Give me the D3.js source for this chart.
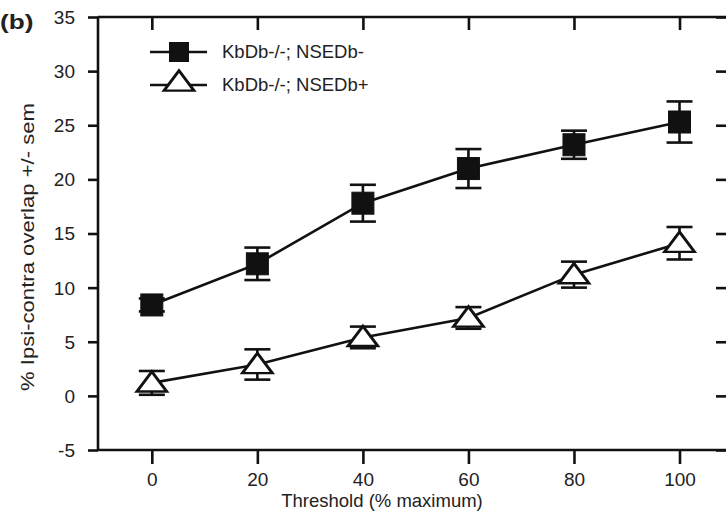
<!DOCTYPE html>
<html>
<head>
<meta charset="utf-8">
<script src="https://cdn.jsdelivr.net/npm/d3@7"></script>
<style>
  body { margin: 0; background: #fff; }
  svg { display: block; font-family: "Liberation Sans", Arial, sans-serif; }
</style>
</head>
<body>
<svg width="726" height="516"></svg>
<script>
// data
const thresholds = [0, 20, 40, 60, 80, 100];
const negMean = [8.4, 12.2, 17.8, 21.0, 23.2, 25.3];
const negSem  = [0.6, 1.5, 1.7, 1.8, 1.3, 1.9];
const posMean = [1.2, 2.9, 5.4, 7.2, 11.2, 14.1];
const posSem  = [1.1, 1.4, 1.0, 1.0, 1.2, 1.5];
const yTicks = [-5, 0, 5, 10, 15, 20, 25, 30, 35];
const seriesNames = ["KbDb-/-; NSEDb-", "KbDb-/-; NSEDb+"];

const svg = d3.select("svg");

const x = d3.scaleLinear().domain([-10.2, 109]).range([98, 727]);
const y = d3.scaleLinear().domain([-5, 35]).range([450, 17]);

const axisW = 2.6;
const fmt = d => String(d);

// axes
const gL = svg.append("g").attr("transform", "translate(98,0)")
  .call(d3.axisLeft(y).tickValues(yTicks).tickSize(10).tickFormat(fmt));
const gB = svg.append("g").attr("transform", "translate(0,450)")
  .call(d3.axisBottom(x).tickValues(thresholds).tickSize(14).tickFormat(fmt));
const gT = svg.append("g").attr("transform", "translate(0,17)")
  .call(d3.axisBottom(x).tickValues(thresholds).tickSize(13).tickFormat(""));
const gR = svg.append("g").attr("transform", "translate(727,0)")
  .call(d3.axisLeft(y).tickValues(yTicks).tickSize(11).tickFormat(""));

[gL, gB, gT, gR].forEach(g => {
  g.selectAll("path.domain").attr("stroke", "#111").attr("stroke-width", axisW);
  g.selectAll(".tick line").attr("stroke", "#111").attr("stroke-width", axisW);
  g.selectAll("text").attr("fill", "#222").style("font-size", "19px").style("font-family", "Liberation Sans, Arial, sans-serif");
});
gL.select("path.domain").attr("d", "M0,450V17");
gB.select("path.domain").attr("d", "M98,0H727");
gT.select("path.domain").attr("d", "M98,0H727");
gR.select("path.domain").remove();
gL.selectAll(".tick text").attr("x", -23).attr("dy", "0.34em");
gB.selectAll(".tick text").attr("y", 36).attr("dy", 0);

// titles
svg.append("text").attr("transform", "translate(0,29) scale(1.25,1)")
  .style("font-size", "21px").style("font-weight", "bold").attr("fill", "#222").text("(b)");
svg.append("text").attr("transform", "translate(34,247) rotate(-90)")
  .attr("text-anchor", "middle").style("font-size", "19px").attr("fill", "#222")
  .attr("textLength", 288).attr("lengthAdjust", "spacingAndGlyphs")
  .text("% Ipsi-contra overlap +/- sem");
svg.append("text").attr("x", 382).attr("y", 507)
  .attr("text-anchor", "middle").style("font-size", "18.5px").attr("fill", "#222")
  .text("Threshold (% maximum)");

const line = d3.line().x(d => x(d[0])).y(d => y(d[1]));
const tri = d3.symbol().type(d3.symbolTriangle).size(230);

function drawSeries(means, sems, kind) {
  const pts = thresholds.map((t, i) => [t, means[i], sems[i]]);
  const g = svg.append("g");
  g.append("path").datum(pts).attr("d", line)
    .attr("fill", "none").attr("stroke", "#111").attr("stroke-width", 2.6);
  const eb = g.selectAll("g.err").data(pts).join("g").attr("class", "err");
  eb.append("line").attr("x1", d => x(d[0])).attr("x2", d => x(d[0]))
    .attr("y1", d => y(d[1] - d[2])).attr("y2", d => y(d[1] + d[2]))
    .attr("stroke", "#111").attr("stroke-width", 2.6);
  [-1, 1].forEach(s => {
    eb.append("line").attr("x1", d => x(d[0]) - 13).attr("x2", d => x(d[0]) + 13)
      .attr("y1", d => y(d[1] + s * d[2])).attr("y2", d => y(d[1] + s * d[2]))
      .attr("stroke", "#111").attr("stroke-width", 2.6);
  });
  if (kind === "square") {
    g.selectAll("rect.m").data(pts).join("rect").attr("class", "m")
      .attr("x", d => x(d[0]) - 11).attr("y", d => y(d[1]) - 11)
      .attr("width", 22).attr("height", 22)
      .attr("fill", "#111").attr("stroke", "#111").attr("stroke-width", 1);
  } else {
    g.selectAll("path.m").data(pts).join("path").attr("class", "m")
      .attr("transform", d => `translate(${x(d[0])},${y(d[1]) + 2}) scale(1.3,1)`)
      .attr("d", tri)
      .attr("fill", "#fff").attr("stroke", "#111").attr("stroke-width", 2.4);
  }
}

drawSeries(negMean, negSem, "square");
drawSeries(posMean, posSem, "triangle");

// legend
const leg = svg.append("g");
const rows = [{name: seriesNames[0], kind: "square", y: 52}, {name: seriesNames[1], kind: "triangle", y: 85}];
rows.forEach(r => {
  leg.append("line").attr("x1", 150).attr("x2", 207).attr("y1", r.y).attr("y2", r.y)
    .attr("stroke", "#111").attr("stroke-width", 2.6);
  if (r.kind === "square") {
    leg.append("rect").attr("x", 169).attr("y", r.y - 10).attr("width", 20).attr("height", 20).attr("fill", "#111");
  } else {
    leg.append("path").attr("transform", `translate(179,${r.y - 1}) scale(1.3,1)`).attr("d", tri)
      .attr("fill", "#fff").attr("stroke", "#111").attr("stroke-width", 2.4);
  }
  leg.append("text").attr("x", 222).attr("y", r.y).attr("dy", "0.35em")
    .style("font-size", "18.5px").attr("fill", "#222").text(r.name);
});
</script>
</body>
</html>
